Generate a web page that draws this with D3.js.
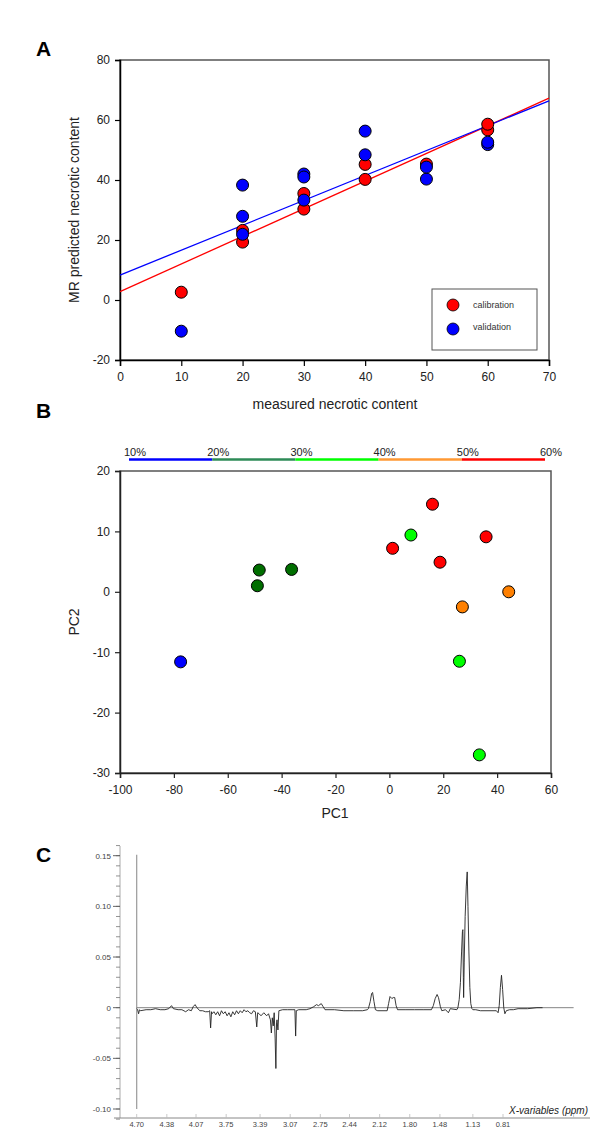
<!DOCTYPE html>
<html><head><meta charset="utf-8">
<script src="https://cdn.jsdelivr.net/npm/d3@7"></script>
<style>body{margin:0;background:#fff}svg{display:block;font-family:"Liberation Sans",Arial,sans-serif}</style>
</head><body>
<svg id="c" width="600" height="1140"></svg>
<script>
// ---------- Panel A data ----------
const calX = [10, 20, 20, 30, 30, 40, 40, 50, 60, 60];
const calY = [2.6, 19.3, 23.2, 30.3, 35.5, 40.2, 45.2, 45.3, 56.7, 58.6];
const valX = [10, 20, 20, 20, 30, 30, 30, 40, 40, 50, 50, 60, 60];
const valY = [-10.4, 21.9, 27.9, 38.3, 33.3, 42.0, 41.0, 48.4, 56.3, 40.3, 44.3, 51.8, 52.6];
const fitNames = ["calibration", "validation"];
const fitIntercept = [2.8, 8.3];
const fitSlope = [0.921, 0.830];
const seriesColors = ["#ff0000", "#0000ff"];
const aXTicks = [0, 10, 20, 30, 40, 50, 60, 70];
const aYTicks = [-20, 0, 20, 40, 60, 80];

// ---------- Panel B data ----------
const pc1 = [-77.5, -48.3, -49.0, -36.3, 1.2, 16.0, 18.8, 35.9, 8.0, 26.0, 33.4, 27.1, 44.3];
const pc2 = [-11.6, 3.6, 1.0, 3.7, 7.2, 14.5, 4.9, 9.1, 9.4, -11.5, -27.0, -2.5, 0.0];
const pcGroup = [0, 1, 1, 1, 4, 4, 4, 4, 2, 2, 2, 3, 3];
const groupDotColors = ["#0000ff", "#006e00", "#00ff00", "#ff8000", "#ff0000"];
const barLabels = ["10%", "20%", "30%", "40%", "50%", "60%"];
const barValues = [10, 20, 30, 40, 50, 60];
const barColors = ["#0000ff", "#2e8b57", "#00ff00", "#ff9933", "#ff0000"];
const bXTicks = [-100, -80, -60, -40, -20, 0, 20, 40, 60];
const bYTicks = [-30, -20, -10, 0, 10, 20];

// ---------- Panel C data ----------
const ppm = [4.70,4.69,4.68,4.67,4.66,4.60,4.55,4.50,4.45,4.40,4.36,4.33,4.31,4.26,4.22,4.18,4.15,4.12,4.10,4.08,4.06,4.03,4.00,3.97,3.94,3.925,3.915,3.905,3.90,3.88,3.86,3.84,3.82,3.80,3.78,3.76,3.74,3.72,3.70,3.68,3.66,3.64,3.62,3.60,3.58,3.56,3.54,3.52,3.50,3.48,3.46,3.44,3.425,3.415,3.40,3.38,3.35,3.32,3.30,3.28,3.27,3.26,3.25,3.24,3.23,3.222,3.215,3.21,3.20,3.19,3.15,3.10,3.05,3.02,3.012,3.005,2.98,2.90,2.86,2.82,2.79,2.77,2.74,2.72,2.70,2.60,2.50,2.40,2.30,2.25,2.24,2.22,2.205,2.195,2.18,2.165,2.14,2.04,2.025,2.01,1.99,1.975,1.96,1.945,1.93,1.85,1.75,1.65,1.57,1.55,1.53,1.51,1.495,1.475,1.46,1.42,1.39,1.37,1.30,1.289,1.275,1.262,1.250,1.241,1.236,1.231,1.228,1.222,1.212,1.200,1.190,1.182,1.172,1.162,1.152,1.14,1.13,1.10,1.05,0.88,0.862,0.850,0.838,0.826,0.814,0.802,0.790,0.775,0.74,0.70,0.65,0.55,0.45,0.39];
const loading = [-0.001,-0.002,-0.006,-0.002,-0.003,-0.002,-0.002,-0.001,-0.002,-0.002,-0.001,0.002,-0.001,-0.002,-0.002,-0.004,-0.002,-0.003,0.001,0.003,0.000,-0.003,-0.003,-0.004,-0.004,-0.003,-0.020,-0.004,-0.006,-0.004,-0.007,-0.004,-0.008,-0.003,-0.006,-0.004,-0.008,-0.005,-0.009,-0.004,-0.007,-0.003,-0.006,-0.003,-0.005,-0.002,-0.004,-0.003,-0.005,-0.006,-0.003,-0.004,-0.019,-0.005,-0.006,-0.008,-0.005,-0.008,-0.006,-0.012,-0.025,-0.010,-0.018,-0.005,-0.030,-0.060,-0.015,-0.012,-0.022,-0.003,-0.002,-0.002,-0.002,-0.002,-0.028,-0.003,-0.002,-0.002,-0.001,0.001,0.003,0.002,0.004,0.001,-0.002,-0.002,-0.003,-0.003,-0.003,-0.002,-0.001,0.006,0.014,0.015,0.006,-0.002,-0.003,-0.003,0.004,0.011,0.009,0.010,0.010,0.002,-0.002,-0.002,-0.002,-0.002,-0.002,0.002,0.009,0.013,0.010,0.001,-0.003,-0.002,-0.005,-0.001,-0.002,0.000,0.008,0.025,0.055,0.075,0.077,0.030,0.010,0.045,0.090,0.120,0.134,0.100,0.055,0.020,0.004,-0.001,-0.002,-0.002,-0.003,-0.003,-0.005,0.002,0.020,0.032,0.018,0.000,-0.006,-0.003,-0.002,-0.002,-0.001,-0.001,0.000,0.000];
const waterPpm = [4.70, 4.70];
const waterVal = [0.151, -0.100];
const baselinePpm = [4.70, 0.06];
const cXTickLabels = ["4.70","4.38","4.07","3.75","3.39","3.07","2.75","2.44","2.12","1.80","1.48","1.13","0.81",""];
const cXTickVals = [4.70,4.38,4.07,3.75,3.39,3.07,2.75,2.44,2.12,1.80,1.48,1.13,0.81,0.06];
const cYTicks = [-0.10, -0.05, 0, 0.05, 0.10, 0.15];

const svg = d3.select("#c");
const plain = d => String(d);

// ================= Panel A =================
{
  const x = d3.scaleLinear().domain([0, 70]).range([120, 549]);
  const y = d3.scaleLinear().domain([-20, 80]).range([360, 60]);
  const g = svg.append("g");
  g.append("text").attr("x", 36).attr("y", 56).attr("font-size", 21).attr("font-weight", "bold").text("A");
  g.append("rect").attr("x", 120).attr("y", 60).attr("width", 429).attr("height", 300)
    .attr("fill", "none").attr("stroke", "#555").attr("stroke-width", 1.5);
  const xa = g.append("g").attr("transform", "translate(0,360)")
    .call(d3.axisBottom(x).tickValues(aXTicks).tickSize(6).tickPadding(6).tickFormat(plain));
  const ya = g.append("g").attr("transform", "translate(120,0)")
    .call(d3.axisLeft(y).tickValues(aYTicks).tickSize(5).tickPadding(5).tickFormat(plain));
  [xa, ya].forEach(a => {
    a.select(".domain").attr("stroke", "#000").attr("stroke-width", 1.5);
    a.selectAll(".tick line").attr("stroke", "#000").attr("stroke-width", 1.2);
    a.selectAll("text").attr("font-size", 12).attr("fill", "#222").attr("font-family", "Liberation Sans, Arial");
  });
  g.append("text").attr("x", 335).attr("y", 409).attr("text-anchor", "middle").attr("font-size", 14).attr("fill", "#222").text("measured necrotic content");
  g.append("text").attr("transform", "translate(79,210) rotate(-90)").attr("text-anchor", "middle").attr("font-size", 14).attr("fill", "#222").text("MR predicted necrotic content");
  fitNames.forEach((n, i) => {
    g.append("line").attr("x1", x(0)).attr("y1", y(fitIntercept[i])).attr("x2", x(70)).attr("y2", y(fitIntercept[i] + fitSlope[i] * 70))
      .attr("stroke", seriesColors[i]).attr("stroke-width", 1.3);
  });
  const cal = calX.map((d, i) => [d, calY[i]]);
  const val = valX.map((d, i) => [d, valY[i]]);
  g.selectAll(".cal").data(cal).enter().append("circle").attr("cx", d => x(d[0])).attr("cy", d => y(d[1])).attr("r", 6)
    .attr("fill", seriesColors[0]).attr("stroke", "#000").attr("stroke-width", 1);
  g.selectAll(".val").data(val).enter().append("circle").attr("cx", d => x(d[0])).attr("cy", d => y(d[1])).attr("r", 6)
    .attr("fill", seriesColors[1]).attr("stroke", "#000").attr("stroke-width", 1);
  g.append("rect").attr("x", 432).attr("y", 289).attr("width", 105).attr("height", 61).attr("fill", "#fff").attr("stroke", "#555").attr("stroke-width", 1);
  fitNames.forEach((n, i) => {
    g.append("circle").attr("cx", 453).attr("cy", 305 + i * 24).attr("r", 6).attr("fill", seriesColors[i]).attr("stroke", "#000").attr("stroke-width", 0.8);
    g.append("text").attr("x", 473).attr("y", 307.5 + i * 22).attr("font-size", 9).attr("fill", "#333").text(n);
  });
}

// ================= Panel B =================
{
  const x = d3.scaleLinear().domain([-100, 60]).range([120, 551]);
  const y = d3.scaleLinear().domain([-30, 20]).range([773, 471]);
  const g = svg.append("g");
  g.append("text").attr("x", 36).attr("y", 418).attr("font-size", 21).attr("font-weight", "bold").text("B");
  const cb = d3.scaleLinear().domain([10, 60]).range([129, 545]);
  barColors.forEach((c, i) => {
    g.append("line").attr("x1", cb(barValues[i])).attr("x2", cb(barValues[i + 1])).attr("y1", 459.5).attr("y2", 459.5)
      .attr("stroke", c).attr("stroke-width", 2.5);
  });
  barLabels.forEach((l, i) => {
    g.append("text").attr("x", cb(barValues[i]) - 5).attr("y", 456).attr("font-size", 11).attr("fill", "#222").text(l);
  });
  g.append("rect").attr("x", 120).attr("y", 471).attr("width", 431).attr("height", 302)
    .attr("fill", "none").attr("stroke", "#555").attr("stroke-width", 1.5);
  const xa = g.append("g").attr("transform", "translate(0,773)")
    .call(d3.axisBottom(x).tickValues(bXTicks).tickSize(5).tickPadding(7).tickFormat(plain));
  const ya = g.append("g").attr("transform", "translate(120,0)")
    .call(d3.axisLeft(y).tickValues(bYTicks).tickSize(5).tickPadding(5).tickFormat(plain));
  [xa, ya].forEach(a => {
    a.select(".domain").attr("stroke", "#222").attr("stroke-width", 1.5);
    a.selectAll(".tick line").attr("stroke", "#222").attr("stroke-width", 1.2);
    a.selectAll("text").attr("font-size", 12).attr("fill", "#222").attr("font-family", "Liberation Sans, Arial");
  });
  g.append("text").attr("x", 335).attr("y", 818).attr("text-anchor", "middle").attr("font-size", 14).attr("fill", "#222").text("PC1");
  g.append("text").attr("transform", "translate(79,622) rotate(-90)").attr("text-anchor", "middle").attr("font-size", 14).attr("fill", "#222").text("PC2");
  const pts = pc1.map((d, i) => ({x: d, y: pc2[i], g: pcGroup[i]}));
  g.selectAll(".p").data(pts).enter().append("circle").attr("cx", d => x(d.x)).attr("cy", d => y(d.y)).attr("r", 6)
    .attr("fill", d => groupDotColors[d.g]).attr("stroke", "#000").attr("stroke-width", 1);
}

// ================= Panel C =================
{
  const x = d3.scaleLinear().domain([4.70, 0.81]).range([136.7, 503]);
  const y = d3.scaleLinear().domain([0.15, -0.10]).range([855.7, 1109]);
  const g = svg.append("g");
  g.append("text").attr("x", 36).attr("y", 862).attr("font-size", 21).attr("font-weight", "bold").text("C");
  g.append("line").attr("x1", 120).attr("x2", 120).attr("y1", 846).attr("y2", 1118).attr("stroke", "#aaa").attr("stroke-width", 1);
  g.append("line").attr("x1", 114).attr("x2", 590).attr("y1", 1118).attr("y2", 1118).attr("stroke", "#888").attr("stroke-width", 1);
  const minor = d3.range(-11, 17).map(v => v / 100);
  g.selectAll(".mt").data(minor).enter().append("line").attr("x1", 116).attr("x2", 120)
    .attr("y1", d => y(d)).attr("y2", d => y(d)).attr("stroke", "#777").attr("stroke-width", 0.8);
  g.selectAll(".Mt").data(cYTicks).enter().append("line").attr("x1", 113).attr("x2", 120)
    .attr("y1", d => y(d)).attr("y2", d => y(d)).attr("stroke", "#555").attr("stroke-width", 0.9);
  const fmt = d => d === 0 ? "0" : d3.format(".2f")(d).replace("\u2212", "-");
  g.selectAll(".yl").data(cYTicks).enter().append("text").attr("x", 111).attr("y", d => y(d) + 3)
    .attr("text-anchor", "end").attr("font-size", 8).attr("fill", "#444").text(fmt);
  g.selectAll(".xt").data(cXTickVals).enter().append("line").attr("x1", d => x(d)).attr("x2", d => x(d))
    .attr("y1", 1114).attr("y2", 1118).attr("stroke", "#bbb").attr("stroke-width", 0.8);
  g.selectAll(".xl").data(cXTickVals).enter().append("text").attr("x", d => x(d)).attr("y", 1127)
    .attr("text-anchor", "middle").attr("font-size", 7.5).attr("fill", "#444").text((d, i) => cXTickLabels[i]);
  g.append("text").attr("x", 588).attr("y", 1114).attr("text-anchor", "end").attr("font-size", 10)
    .attr("font-style", "italic").attr("fill", "#222").text("X-variables (ppm)");
  g.append("path").datum(waterPpm.map((p, i) => [p, waterVal[i]]))
    .attr("d", d3.line().x(d => x(d[0])).y(d => y(d[1]))).attr("stroke", "#999").attr("stroke-width", 1.2).attr("fill", "none");
  g.append("path").datum(baselinePpm.map(p => [p, 0]))
    .attr("d", d3.line().x(d => x(d[0])).y(d => y(d[1]))).attr("stroke", "#777").attr("stroke-width", 0.9).attr("fill", "none");
  g.append("path").datum(ppm.map((p, i) => [p, loading[i]]))
    .attr("d", d3.line().x(d => x(d[0])).y(d => y(d[1]))).attr("stroke", "#222").attr("stroke-width", 0.9).attr("fill", "none");
}
</script>
</body></html>
